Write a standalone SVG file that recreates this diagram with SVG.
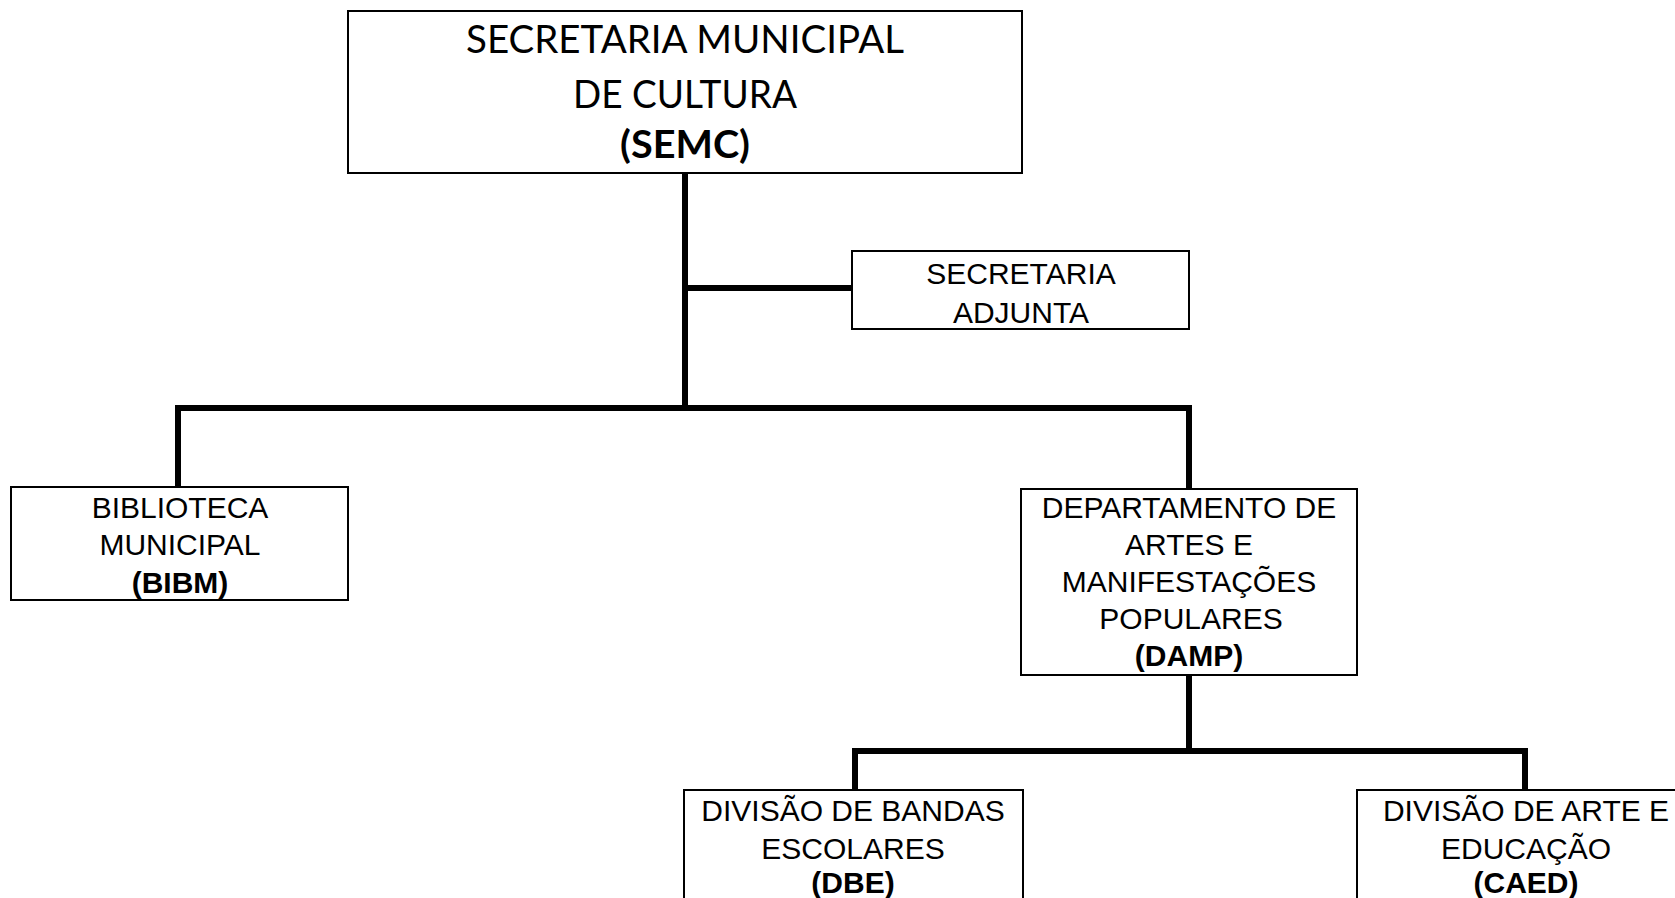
<svg xmlns="http://www.w3.org/2000/svg" width="1675" height="898" viewBox="0 0 1675 898">
<style>
.box{fill:#fff;stroke:#000;stroke-width:2}
.t{font-family:"Liberation Sans",Arial,sans-serif;font-size:30px;fill:#000;text-anchor:middle}
.b{font-weight:bold}
.c{font-family:Lato,"Open Sans",sans-serif;font-size:38px;fill:#000;text-anchor:middle}
.conn{fill:none;stroke:#000;stroke-width:6;stroke-linejoin:miter;stroke-linecap:butt}
</style>
<rect width="1675" height="898" fill="#fff"/>
<g id="connectors">
<path class="conn" d="M685 173 V408"/>
<path class="conn" d="M685 288 H852"/>
<path class="conn" d="M178 487 V408 H1189 V489"/>
<path class="conn" d="M1189 675 V751"/>
<path class="conn" d="M855 790 V751 H1525 V790"/>
</g>
<g id="semc">
<rect class="box" x="348" y="11" width="674" height="162"/>
<text class="c" x="685" y="53" textLength="438" lengthAdjust="spacingAndGlyphs">SECRETARIA MUNICIPAL</text>
<text class="c" x="685" y="108" textLength="224" lengthAdjust="spacingAndGlyphs">DE CULTURA</text>
<text class="c b" x="685" y="158" textLength="130" lengthAdjust="spacingAndGlyphs">(SEMC)</text>
</g>
<g id="adjunta">
<rect class="box" x="852" y="251" width="337" height="78"/>
<text class="t" x="1021" y="284">SECRETARIA</text>
<text class="t" x="1021" y="323">ADJUNTA</text>
</g>
<g id="bibm">
<rect class="box" x="11" y="487" width="337" height="113"/>
<text class="t" x="180" y="518">BIBLIOTECA</text>
<text class="t" x="180" y="555">MUNICIPAL</text>
<text class="t b" x="180" y="593">(BIBM)</text>
</g>
<g id="damp">
<rect class="box" x="1021" y="489" width="336" height="186"/>
<text class="t" x="1189" y="518">DEPARTAMENTO DE</text>
<text class="t" x="1189" y="555">ARTES E</text>
<text class="t" x="1189" y="592">MANIFESTAÇÕES</text>
<text class="t" x="1191" y="629">POPULARES</text>
<text class="t b" x="1189" y="666">(DAMP)</text>
</g>
<g id="dbe">
<rect class="box" x="684" y="790" width="339" height="130"/>
<text class="t" x="853" y="821">DIVISÃO DE BANDAS</text>
<text class="t" x="853" y="859">ESCOLARES</text>
<text class="t b" x="853" y="893">(DBE)</text>
</g>
<g id="caed">
<rect class="box" x="1357" y="790" width="340" height="130"/>
<text class="t" x="1526" y="821">DIVISÃO DE ARTE E</text>
<text class="t" x="1526" y="859">EDUCAÇÃO</text>
<text class="t b" x="1526" y="893">(CAED)</text>
</g>
</svg>
